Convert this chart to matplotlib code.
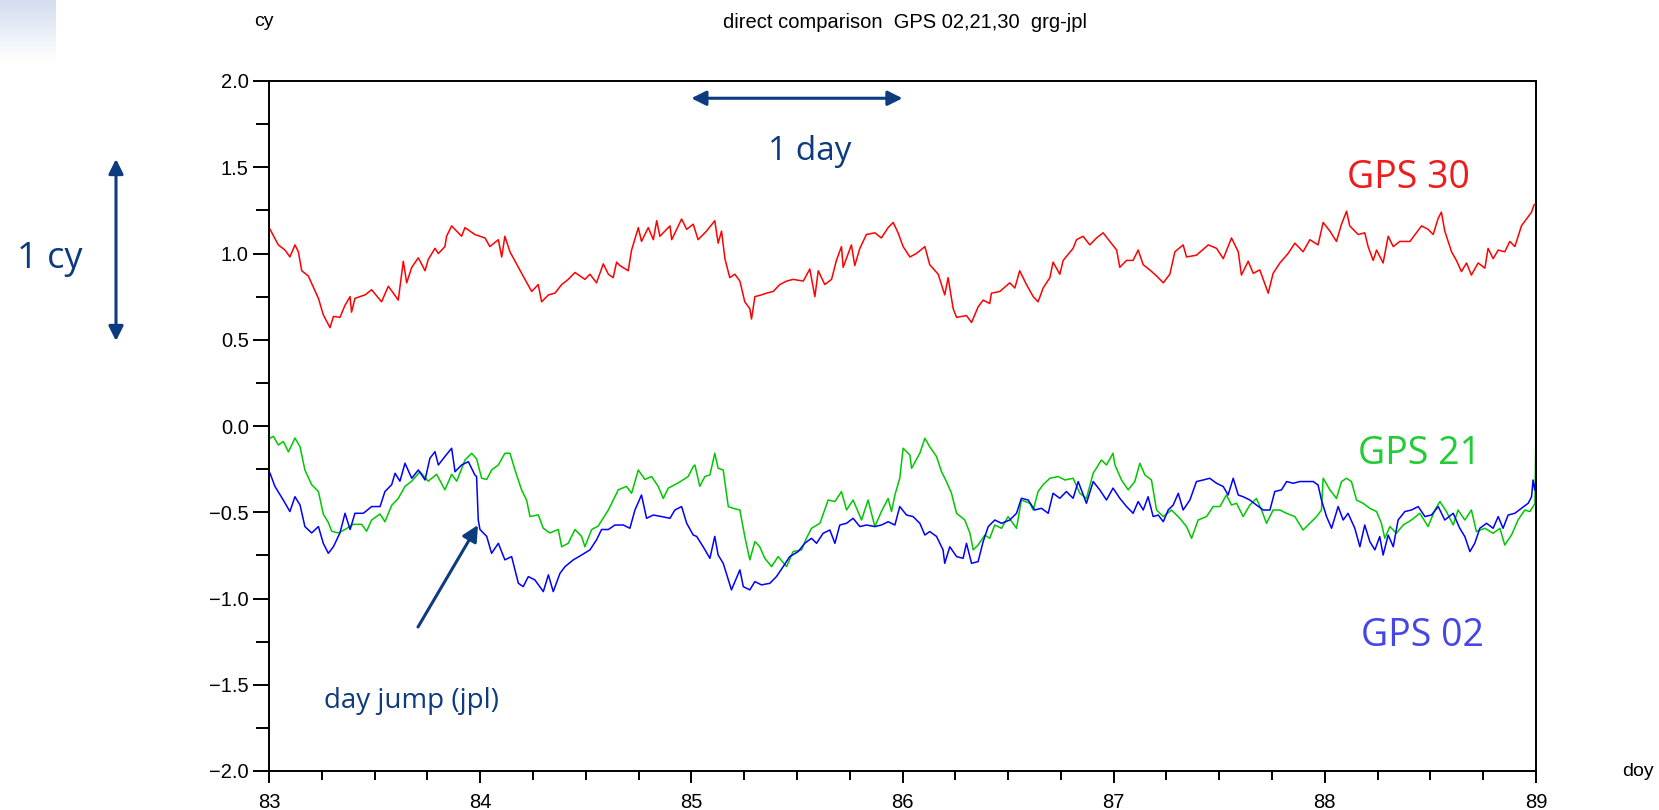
import matplotlib
matplotlib.use("Agg")
import matplotlib.pyplot as plt
import numpy as np
from matplotlib.ticker import MultipleLocator, FuncFormatter

# values (doy, cycles)
red_day = [83.005, 83.044, 83.076, 83.099, 83.123, 83.139, 83.155, 83.186, 83.234, 83.257,
           83.289, 83.305, 83.336, 83.360, 83.384, 83.391, 83.407, 83.455, 83.486, 83.533,
           83.565, 83.589, 83.612, 83.636, 83.652, 83.676, 83.707, 83.739, 83.754, 83.786,
           83.802, 83.833, 83.841, 83.865, 83.912, 83.928, 83.975, 84.023, 84.046, 84.086,
           84.102, 84.117, 84.141, 84.181, 84.212, 84.244, 84.275, 84.291, 84.323, 84.354,
           84.386, 84.417, 84.449, 84.496, 84.520, 84.551, 84.583, 84.607, 84.630, 84.646,
           84.662, 84.701, 84.717, 84.749, 84.764, 84.796, 84.820, 84.836, 84.851, 84.899,
           84.907, 84.954, 84.978, 85.009,
           85.032, 85.072, 85.111, 85.127, 85.143, 85.159, 85.182, 85.206, 85.230, 85.253,
           85.277, 85.285, 85.301, 85.332, 85.356, 85.388, 85.419, 85.451, 85.482, 85.530,
           85.561, 85.585, 85.601, 85.632, 85.664, 85.687, 85.711, 85.719, 85.758, 85.774,
           85.798, 85.829, 85.869, 85.900, 85.932, 85.956, 85.979, 86.003, 86.035, 86.066,
           86.106, 86.129, 86.169, 86.200, 86.216, 86.240, 86.256, 86.303, 86.327, 86.358,
           86.382, 86.413, 86.421, 86.461, 86.508, 86.532, 86.555, 86.587, 86.619, 86.642,
           86.666, 86.698, 86.713, 86.745, 86.761, 86.808, 86.824, 86.855, 86.887, 86.919,
           86.950, 86.982,
           87.014, 87.029, 87.061, 87.092, 87.116, 87.140, 87.171, 87.203, 87.235, 87.266,
           87.290, 87.329, 87.345, 87.392, 87.448, 87.487, 87.519, 87.558, 87.590, 87.605,
           87.637, 87.661, 87.692, 87.732, 87.755, 87.787, 87.826, 87.858, 87.897, 87.929,
           87.968, 87.992, 88.024, 88.055, 88.079, 88.103, 88.118, 88.158, 88.189, 88.205,
           88.229, 88.245, 88.276, 88.300, 88.324, 88.355, 88.403, 88.458, 88.489, 88.513,
           88.537, 88.552, 88.568, 88.600, 88.623, 88.647, 88.671, 88.694, 88.726, 88.758,
           88.773, 88.797, 88.821, 88.852, 88.876, 88.900, 88.931, 88.955, 88.979, 88.990,
           89.0]
red_cy = [1.14, 1.05, 1.02, 0.98, 1.05, 1.01, 0.90, 0.87, 0.74, 0.645,
          0.57, 0.635, 0.63, 0.70, 0.75, 0.66, 0.74, 0.76, 0.79, 0.72,
          0.81, 0.77, 0.73, 0.955, 0.83, 0.92, 0.975, 0.90, 0.965, 1.03,
          1.00, 1.04, 1.10, 1.16, 1.10, 1.15, 1.11, 1.09, 1.04, 1.08,
          0.98, 1.10, 1.01, 0.92, 0.85, 0.78, 0.82, 0.72, 0.76, 0.77,
          0.82, 0.85, 0.89, 0.85, 0.88, 0.83, 0.94, 0.88, 0.86, 0.95,
          0.93, 0.90, 1.02, 1.15, 1.07, 1.15, 1.08, 1.19, 1.10, 1.16,
          1.08, 1.20, 1.14, 1.17,
          1.08, 1.13, 1.19, 1.06, 1.13, 0.97, 0.86, 0.88, 0.84, 0.72,
          0.68, 0.62, 0.75, 0.76, 0.77, 0.78, 0.82, 0.84, 0.85, 0.84,
          0.91, 0.75, 0.90, 0.82, 0.85, 0.96, 1.04, 0.92, 1.05, 0.93,
          1.03, 1.11, 1.12, 1.09, 1.15, 1.18, 1.12, 1.04, 0.98, 1.00,
          1.04, 0.935, 0.88, 0.76, 0.86, 0.68, 0.63, 0.64, 0.60, 0.69,
          0.73, 0.71, 0.77, 0.78, 0.83, 0.80, 0.90, 0.82, 0.75, 0.72,
          0.80, 0.86, 0.95, 0.88, 0.96, 1.03, 1.08, 1.10, 1.05, 1.09,
          1.12, 1.07,
          1.02, 0.92, 0.96, 0.96, 1.02, 0.935, 0.905, 0.87, 0.83, 0.88,
          1.01, 1.05, 0.98, 0.99, 1.05, 1.03, 0.97, 1.09, 1.01, 0.875,
          0.955, 0.885, 0.905, 0.77, 0.885, 0.945, 1.00, 1.06, 1.01, 1.08,
          1.05, 1.18, 1.13, 1.07, 1.17, 1.245, 1.16, 1.11, 1.12, 1.04,
          0.96, 1.02, 0.945, 1.10, 1.04, 1.07, 1.07, 1.16, 1.14, 1.11,
          1.205, 1.24, 1.13, 1.01, 0.96, 0.895, 0.945, 0.875, 0.945, 0.915,
          1.03, 0.97, 1.02, 1.01, 1.07, 1.04, 1.16, 1.20, 1.24, 1.28,
          1.29]

green_day = [83.005, 83.021, 83.044, 83.068, 83.092, 83.123, 83.147, 83.170, 83.202, 83.234,
             83.257, 83.281, 83.297, 83.328, 83.360, 83.399, 83.439, 83.462, 83.486, 83.526,
             83.549, 83.581, 83.612, 83.644, 83.676, 83.715, 83.754, 83.794, 83.833, 83.865,
             83.889, 83.928, 83.960, 83.983, 84.007, 84.031, 84.054, 84.086, 84.117, 84.141,
             84.165, 84.196, 84.220, 84.236, 84.275, 84.299, 84.330, 84.370, 84.386, 84.417,
             84.449, 84.480, 84.496, 84.528, 84.559, 84.607, 84.654, 84.693, 84.717, 84.749,
             84.780, 84.812, 84.843, 84.867, 84.891, 84.938, 84.985, 85.009,
             85.017, 85.040, 85.064, 85.088, 85.111, 85.127, 85.151, 85.175, 85.198, 85.230,
             85.253, 85.277, 85.301, 85.324, 85.348, 85.380, 85.411, 85.451, 85.482, 85.522,
             85.545, 85.569, 85.609, 85.648, 85.680, 85.711, 85.735, 85.766, 85.806, 85.837,
             85.869, 85.900, 85.932, 85.948, 85.964, 85.987, 86.003, 86.035, 86.043, 86.082,
             86.106, 86.129, 86.161, 86.185, 86.208, 86.232, 86.256, 86.295, 86.319, 86.335,
             86.358, 86.390, 86.413, 86.437, 86.469, 86.500, 86.540, 86.563, 86.603, 86.619,
             86.642, 86.666, 86.698, 86.737, 86.769, 86.808, 86.840, 86.871, 86.903, 86.942,
             86.966, 86.997,
             87.006, 87.037, 87.069, 87.100, 87.124, 87.148, 87.179, 87.203, 87.235, 87.274,
             87.313, 87.345, 87.369, 87.400, 87.440, 87.471, 87.503, 87.534, 87.558, 87.582,
             87.613, 87.645, 87.676, 87.700, 87.724, 87.755, 87.787, 87.818, 87.858, 87.897,
             87.929, 87.961, 87.984, 87.992, 88.024, 88.055, 88.079, 88.103, 88.126, 88.150,
             88.181, 88.213, 88.245, 88.268, 88.284, 88.308, 88.339, 88.371, 88.410, 88.450,
             88.489, 88.521, 88.545, 88.576, 88.608, 88.631, 88.663, 88.694, 88.718, 88.758,
             88.797, 88.829, 88.852, 88.884, 88.915, 88.947, 88.971, 88.995, 89.0]
green_cy = [-0.07, -0.06, -0.11, -0.09, -0.15, -0.07, -0.12, -0.255, -0.34, -0.38,
            -0.51, -0.56, -0.61, -0.62, -0.60, -0.57, -0.57, -0.61, -0.545, -0.51,
            -0.555, -0.46, -0.42, -0.35, -0.32, -0.265, -0.32, -0.28, -0.37, -0.28,
            -0.32, -0.197, -0.158, -0.19, -0.303, -0.31, -0.255, -0.226, -0.158, -0.158,
            -0.255, -0.37, -0.43, -0.525, -0.515, -0.593, -0.62, -0.60, -0.70, -0.68,
            -0.60, -0.64, -0.70, -0.60, -0.58, -0.487, -0.37, -0.35, -0.39, -0.255,
            -0.31, -0.293, -0.35, -0.42, -0.36, -0.33, -0.293, -0.235,
            -0.226, -0.35, -0.293, -0.284, -0.158, -0.245, -0.255, -0.467, -0.477, -0.487,
            -0.64, -0.776, -0.67, -0.70, -0.767, -0.815, -0.757, -0.815, -0.728, -0.718,
            -0.651, -0.593, -0.564, -0.429, -0.438, -0.38, -0.487, -0.429, -0.545, -0.429,
            -0.583, -0.496, -0.42, -0.496, -0.40, -0.303, -0.129, -0.168, -0.245, -0.158,
            -0.071, -0.12, -0.177, -0.265, -0.322, -0.39, -0.506, -0.545, -0.62, -0.718,
            -0.69, -0.632, -0.651, -0.574, -0.593, -0.525, -0.593, -0.429, -0.448, -0.487,
            -0.38, -0.34, -0.303, -0.293, -0.313, -0.303, -0.39, -0.42, -0.274, -0.197,
            -0.226, -0.158,
            -0.226, -0.313, -0.37, -0.322, -0.216, -0.284, -0.313, -0.487, -0.525, -0.487,
            -0.535, -0.583, -0.651, -0.545, -0.525, -0.467, -0.467, -0.40, -0.458, -0.448,
            -0.525, -0.458, -0.42, -0.487, -0.564, -0.487, -0.487, -0.506, -0.525, -0.603,
            -0.564, -0.525, -0.487, -0.303, -0.37, -0.42, -0.322, -0.303, -0.322, -0.429,
            -0.448, -0.477, -0.496, -0.564, -0.651, -0.583, -0.622, -0.574, -0.545, -0.506,
            -0.583, -0.487, -0.438, -0.496, -0.574, -0.487, -0.545, -0.487, -0.612, -0.593,
            -0.622, -0.593, -0.69, -0.632, -0.545, -0.487, -0.496, -0.45, -0.004]

blue_day = [83.005, 83.028, 83.068, 83.099, 83.123, 83.147, 83.170, 83.202, 83.234, 83.257,
            83.281, 83.305, 83.336, 83.360, 83.384, 83.407, 83.447, 83.486, 83.526, 83.549,
            83.581, 83.597, 83.620, 83.644, 83.676, 83.707, 83.739, 83.762, 83.786, 83.802,
            83.833, 83.865, 83.881, 83.912, 83.944, 83.975, 83.983, 83.991, 83.999, 84.031,
            84.054, 84.086, 84.117, 84.149, 84.181, 84.204, 84.228, 84.259, 84.299, 84.323,
            84.346, 84.378, 84.402, 84.441, 84.480, 84.520, 84.551, 84.575, 84.607, 84.638,
            84.678, 84.709, 84.733, 84.764, 84.788, 84.820, 84.859, 84.899, 84.922, 84.954,
            84.978, 85.009,
            85.025, 85.056, 85.088, 85.111, 85.127, 85.151, 85.175, 85.190, 85.230, 85.246,
            85.277, 85.301, 85.332, 85.372, 85.403, 85.435, 85.466, 85.506, 85.537, 85.569,
            85.593, 85.624, 85.656, 85.680, 85.703, 85.735, 85.766, 85.798, 85.829, 85.869,
            85.900, 85.932, 85.964, 85.987, 86.019, 86.050, 86.082, 86.106, 86.129, 86.161,
            86.192, 86.200, 86.224, 86.256, 86.287, 86.303, 86.327, 86.358, 86.382, 86.406,
            86.437, 86.469, 86.508, 86.540, 86.563, 86.595, 86.626, 86.658, 86.690, 86.713,
            86.745, 86.776, 86.808, 86.832, 86.871, 86.903, 86.934, 86.966, 86.997,
            87.029, 87.061, 87.092, 87.116, 87.140, 87.163, 87.187, 87.211, 87.235, 87.258,
            87.282, 87.306, 87.329, 87.361, 87.392, 87.424, 87.455, 87.487, 87.519, 87.542,
            87.566, 87.590, 87.613, 87.645, 87.676, 87.708, 87.740, 87.763, 87.795, 87.819,
            87.850, 87.882, 87.913, 87.945, 87.968, 87.984, 88.008, 88.032, 88.063, 88.087,
            88.110, 88.142, 88.166, 88.189, 88.213, 88.237, 88.260, 88.276, 88.300, 88.324,
            88.347, 88.379, 88.410, 88.442, 88.474, 88.505, 88.537, 88.568, 88.608, 88.639,
            88.663, 88.687, 88.710, 88.734, 88.766, 88.797, 88.821, 88.844, 88.868, 88.900,
            88.931, 88.963, 88.979, 88.986, 88.994, 89.0]
blue_cy = [-0.274, -0.35, -0.43, -0.496, -0.41, -0.458, -0.583, -0.62, -0.583, -0.68,
           -0.738, -0.70, -0.62, -0.506, -0.60, -0.506, -0.506, -0.467, -0.467, -0.38,
           -0.34, -0.274, -0.32, -0.216, -0.303, -0.255, -0.313, -0.187, -0.149, -0.226,
           -0.177, -0.129, -0.265, -0.226, -0.207, -0.284, -0.293, -0.545, -0.60, -0.64,
           -0.738, -0.68, -0.776, -0.757, -0.912, -0.931, -0.873, -0.892, -0.96, -0.863,
           -0.96, -0.854, -0.815, -0.776, -0.748, -0.718, -0.66, -0.60, -0.60, -0.574,
           -0.574, -0.593, -0.487, -0.40, -0.535, -0.516, -0.525, -0.535, -0.487, -0.467,
           -0.564, -0.632,
           -0.64, -0.70, -0.767, -0.64, -0.748, -0.796, -0.892, -0.95, -0.834, -0.931,
           -0.95, -0.902, -0.921, -0.912, -0.873, -0.815, -0.757, -0.728, -0.68, -0.651,
           -0.68, -0.622, -0.603, -0.68, -0.574, -0.564, -0.535, -0.583, -0.574, -0.583,
           -0.574, -0.555, -0.574, -0.467, -0.516, -0.525, -0.564, -0.632, -0.612, -0.64,
           -0.718, -0.796, -0.70, -0.757, -0.767, -0.68, -0.796, -0.786, -0.67, -0.583,
           -0.545, -0.564, -0.545, -0.506, -0.419, -0.429, -0.487, -0.477, -0.506, -0.39,
           -0.419, -0.38, -0.419, -0.322, -0.448, -0.322, -0.37, -0.429, -0.36,
           -0.419, -0.467, -0.506, -0.438, -0.487, -0.41, -0.525, -0.516, -0.555, -0.487,
           -0.458, -0.39, -0.487, -0.429, -0.322, -0.313, -0.303, -0.332, -0.351, -0.40,
           -0.303, -0.40, -0.41, -0.429, -0.458, -0.487, -0.487, -0.38, -0.37, -0.322,
           -0.332, -0.322, -0.322, -0.322, -0.342, -0.429, -0.525, -0.593, -0.467, -0.545,
           -0.506, -0.593, -0.70, -0.574, -0.67, -0.718, -0.641, -0.748, -0.632, -0.70,
           -0.545, -0.496, -0.487, -0.467, -0.525, -0.516, -0.467, -0.545, -0.506, -0.593,
           -0.641, -0.728, -0.68, -0.593, -0.564, -0.593, -0.525, -0.593, -0.516, -0.506,
           -0.477, -0.448, -0.41, -0.313, -0.37, -0.32]

navy = "#0d3b7f"
W, H = 1659, 810

fig = plt.figure(figsize=(W / 100, H / 100), dpi=100)
fig.patch.set_facecolor("white")

# light slide-background corner, top left
corner = fig.add_axes([0, 1 - 62 / H, 56 / W, 62 / H])
grad = np.linspace(0, 1, 50)
corner.imshow(np.outer(grad, np.ones(10)), cmap=matplotlib.colors.LinearSegmentedColormap.from_list(
    "c", ["#d3ddee", "#ffffff"]), aspect="auto")
corner.axis("off")

ax = fig.add_axes([269 / W, 1 - 771 / H, (1536 - 269) / W, (771 - 81) / H])

ax.plot(red_day, red_cy, color="#ff0000", lw=1.1)
ax.plot(green_day, green_cy, color="#00c800", lw=1.1)
ax.plot(blue_day, blue_cy, color="#0000ff", lw=1.1)

ax.set_xlim(83, 89)
ax.set_ylim(-2, 2)
ax.xaxis.set_major_locator(MultipleLocator(1))
ax.xaxis.set_minor_locator(MultipleLocator(0.25))
ax.yaxis.set_major_locator(MultipleLocator(0.5))
ax.yaxis.set_minor_locator(MultipleLocator(0.25))
ax.xaxis.set_major_formatter(FuncFormatter(lambda v, p: "%d" % v))
ax.yaxis.set_major_formatter(FuncFormatter(lambda v, p: ("%.1f" % v).replace("-", "\u2212")))
for s in ax.spines.values():
    s.set_linewidth(1.4)
ax.tick_params(axis="y", which="major", direction="out", length=11.5, width=1.4, pad=3,
               labelsize=14.5)
ax.tick_params(axis="y", which="minor", direction="out", length=9.5, width=1.4)
ax.tick_params(axis="x", which="major", direction="out", length=8.5, width=1.4, pad=7,
               labelsize=14.5)
ax.tick_params(axis="x", which="minor", direction="out", length=6.5, width=1.4)
for lab in ax.get_xticklabels() + ax.get_yticklabels():
    lab.set_fontfamily("Liberation Sans")


def ft(x, y, s, **kw):
    fig.text(x / W, 1 - y / H, s, ha="center", va="center", **kw)


ft(264, 22, "cy", fontsize=14, family="Liberation Sans")
ft(905, 22, "direct comparison  GPS 02,21,30  grg-jpl", fontsize=14.5, family="Liberation Sans")
ft(1638, 771, "doy", fontsize=14, family="Liberation Sans")

big = dict(fontsize=24, family="Open Sans")
gps = dict(fontsize=27, family="Open Sans")
ft(810, 151, "1 day", color=navy, **big)
ft(50, 259, "1 cy", color=navy, fontsize=26, family="Open Sans")
ft(1408, 178, "GPS 30", color="#ee1c1c", **gps)
ft(1419, 454, "GPS 21", color="#22cc33", **gps)
ft(1422, 636, "GPS 02", color="#4646e6", **gps)
ft(412, 701, "day jump (jpl)", color=navy, fontsize=20, family="Open Sans")

arr = dict(arrowstyle="<|-|>", color=navy, lw=2.2, mutation_scale=22, shrinkA=0, shrinkB=0)
ax.annotate("", xy=(85.0, 1.90), xytext=(86.0, 1.90), arrowprops=arr)
ax.annotate("", xy=(116, H - 159), xytext=(116, H - 341), xycoords="figure pixels",
            textcoords="figure pixels", arrowprops=arr, annotation_clip=False)
ax.annotate("", xy=(478, H - 525), xytext=(418, H - 627), xycoords="figure pixels",
            textcoords="figure pixels", annotation_clip=False,
            arrowprops=dict(arrowstyle="-|>", color=navy, lw=2.2, mutation_scale=24,
                            shrinkA=0, shrinkB=0))

fig.savefig("out.png", dpi=100)
